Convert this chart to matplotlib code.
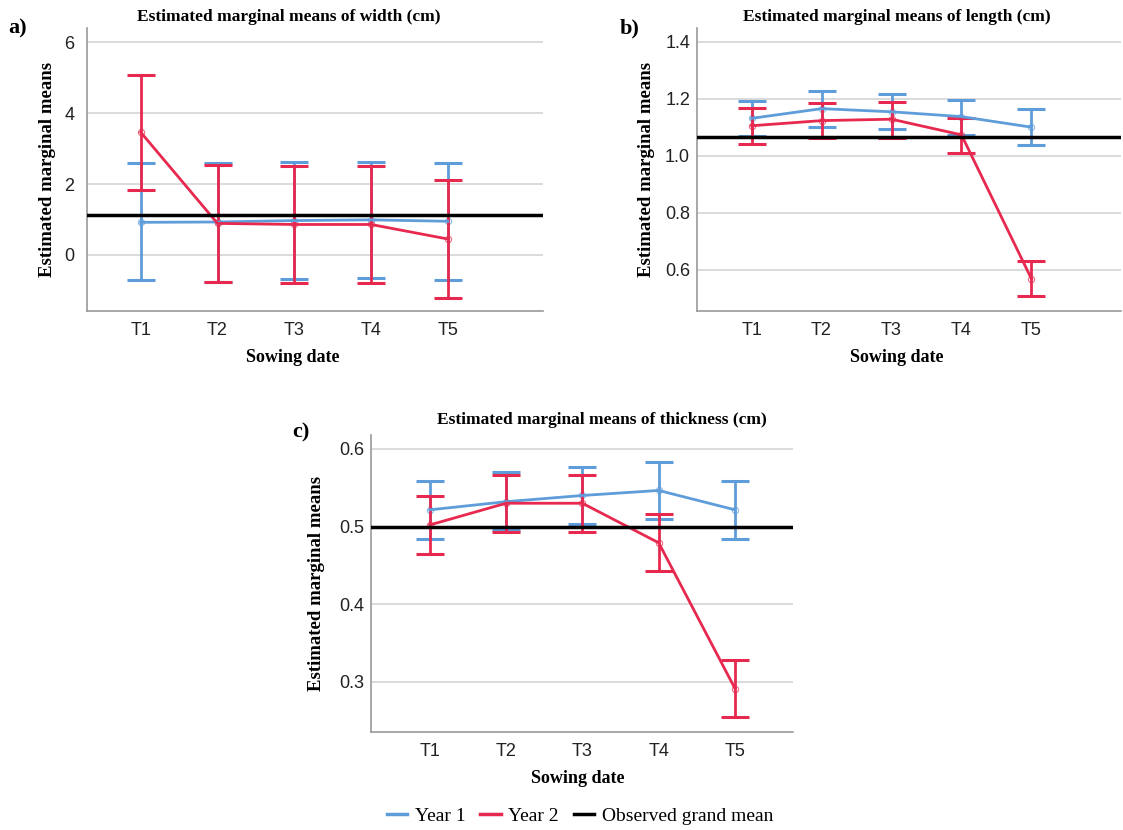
import matplotlib.pyplot as plt
from matplotlib.lines import Line2D
import numpy as np

# --- data ---
dates = ['T1', 'T2', 'T3', 'T4', 'T5']

width_y1 = [0.92, 0.93, 0.97, 0.99, 0.95]
width_y1_lo = [-0.71, -0.75, -0.68, -0.66, -0.70]
width_y1_hi = [2.58, 2.58, 2.61, 2.63, 2.60]
width_y2 = [3.46, 0.89, 0.86, 0.86, 0.45]
width_y2_lo = [1.83, -0.76, -0.79, -0.79, -1.20]
width_y2_hi = [5.08, 2.55, 2.52, 2.52, 2.10]
width_grand = 1.13

length_y1 = [1.131, 1.165, 1.154, 1.137, 1.100]
length_y1_lo = [1.070, 1.102, 1.093, 1.073, 1.036]
length_y1_hi = [1.192, 1.227, 1.215, 1.194, 1.163]
length_y2 = [1.105, 1.123, 1.128, 1.073, 0.568]
length_y2_lo = [1.042, 1.063, 1.063, 1.011, 0.508]
length_y2_hi = [1.166, 1.184, 1.187, 1.133, 0.629]
length_grand = 1.067

thick_y1 = [0.5215, 0.532, 0.540, 0.5465, 0.5215]
thick_y1_lo = [0.4845, 0.495, 0.503, 0.510, 0.4845]
thick_y1_hi = [0.5586, 0.570, 0.577, 0.583, 0.5586]
thick_y2 = [0.502, 0.530, 0.530, 0.479, 0.291]
thick_y2_lo = [0.465, 0.493, 0.493, 0.443, 0.2545]
thick_y2_hi = [0.539, 0.567, 0.567, 0.516, 0.328]
thick_grand = 0.499

BLUE = '#5E9DD9'
RED = '#E8294F'
W, H = 1123, 830

fig = plt.figure(figsize=(W / 100, H / 100), dpi=100)
plt.rcParams['font.family'] = ['Liberation Sans', 'DejaVu Sans']
SERIF = ['Liberation Serif', 'DejaVu Serif']


def px_axes(left, top, right, bottom):
    return fig.add_axes([left / W, 1 - bottom / H, (right - left) / W, (bottom - top) / H])


def panel(ax, title, letter, letter_xy, y1, y1lo, y1hi, y2, y2lo, y2hi, grand,
          ylim, xlim, yticks, ticklabels, title_pad, title_x, xlab_x, ylab_x, tick_pad):
    x = np.arange(1, len(dates) + 1)
    for ys, lo, hi, c in [(y1, y1lo, y1hi, BLUE), (y2, y2lo, y2hi, RED)]:
        ys = np.array(ys)
        err = [ys - np.array(lo), np.array(hi) - ys]
        ax.errorbar(x, ys, yerr=err, color=c, lw=2, elinewidth=2, capsize=10,
                    capthick=2.2, zorder=3)
        ax.plot(x, ys, 'o', ms=4.5, mfc='none', mec=c, mew=0.8, alpha=0.7, zorder=3)
    ax.axhline(grand, color='black', lw=2.5, zorder=4)
    ax.set_xlim(*xlim)
    ax.set_ylim(*ylim)
    ax.set_xticks(x)
    ax.set_xticklabels(dates)
    ax.set_yticks(yticks)
    ax.set_yticklabels(ticklabels)
    ax.tick_params(length=0, labelsize=13, colors='#222222')
    ax.tick_params(axis='x', pad=8)
    ax.tick_params(axis='y', pad=tick_pad)
    ax.grid(axis='y', color='#D4D4D4', lw=1.2)
    ax.set_axisbelow(True)
    for s in ['top', 'right']:
        ax.spines[s].set_visible(False)
    for s in ['left', 'bottom']:
        ax.spines[s].set_color('#999999')
        ax.spines[s].set_linewidth(1.2)
    ax.set_title(title, family=SERIF, fontweight='bold', fontsize=12.5, pad=title_pad, x=title_x)
    ax.set_xlabel('Sowing date', family=SERIF, fontweight='bold', fontsize=13, labelpad=7)
    ax.xaxis.label.set_x(xlab_x)
    ax.set_ylabel('Estimated marginal means', family=SERIF, fontweight='bold', fontsize=13.5)
    ax.yaxis.set_label_coords(ylab_x, 0.5)
    fig.text(letter_xy[0] / W, 1 - letter_xy[1] / H, letter, family=SERIF,
             fontweight='bold', fontsize=16, ha='left', va='center')


ax_a = px_axes(87, 28, 543, 311)
panel(ax_a, 'Estimated marginal means of width (cm)', 'a)', (8, 28),
      width_y1, width_y1_lo, width_y1_hi, width_y2, width_y2_lo, width_y2_hi, width_grand,
      (-1.58, 6.4), (0.3, 6.24), [0, 2, 4, 6], ['0', '2', '4', '6'],
      5, 0.443, 0.452, -0.068, 9)

ax_b = px_axes(697, 28, 1121, 311)
panel(ax_b, 'Estimated marginal means of length (cm)', 'b)', (620, 28),
      length_y1, length_y1_lo, length_y1_hi, length_y2, length_y2_lo, length_y2_hi,
      length_grand, (0.455, 1.448), (0.22, 6.28), [0.6, 0.8, 1.0, 1.2, 1.4],
      ['0.6', '0.8', '1.0', '1.2', '1.4'], 5, 0.472, 0.472, -0.1, 5)

ax_c = px_axes(371, 435, 793, 732)
panel(ax_c, 'Estimated marginal means of thickness (cm)', 'c)', (292, 432),
      thick_y1, thick_y1_lo, thick_y1_hi, thick_y2, thick_y2_lo, thick_y2_hi, thick_grand,
      (0.235, 0.618), (0.23, 5.76), [0.3, 0.4, 0.5, 0.6], ['0.3', '0.4', '0.5', '0.6'],
      8, 0.546, 0.49, -0.108, 5)

handles = [Line2D([], [], color=BLUE, lw=2.5),
           Line2D([], [], color=RED, lw=2.5),
           Line2D([], [], color='black', lw=2.5)]
fig.legend(handles, ['Year 1', 'Year 2', 'Observed grand mean'], loc='center',
           bbox_to_anchor=(580 / W, 1 - 816 / H), ncol=3, frameon=False,
           prop={'family': SERIF, 'size': 14}, handlelength=1.05, handletextpad=0.4,
           columnspacing=0.75)

fig.savefig('out.png', dpi=100, facecolor='white')
